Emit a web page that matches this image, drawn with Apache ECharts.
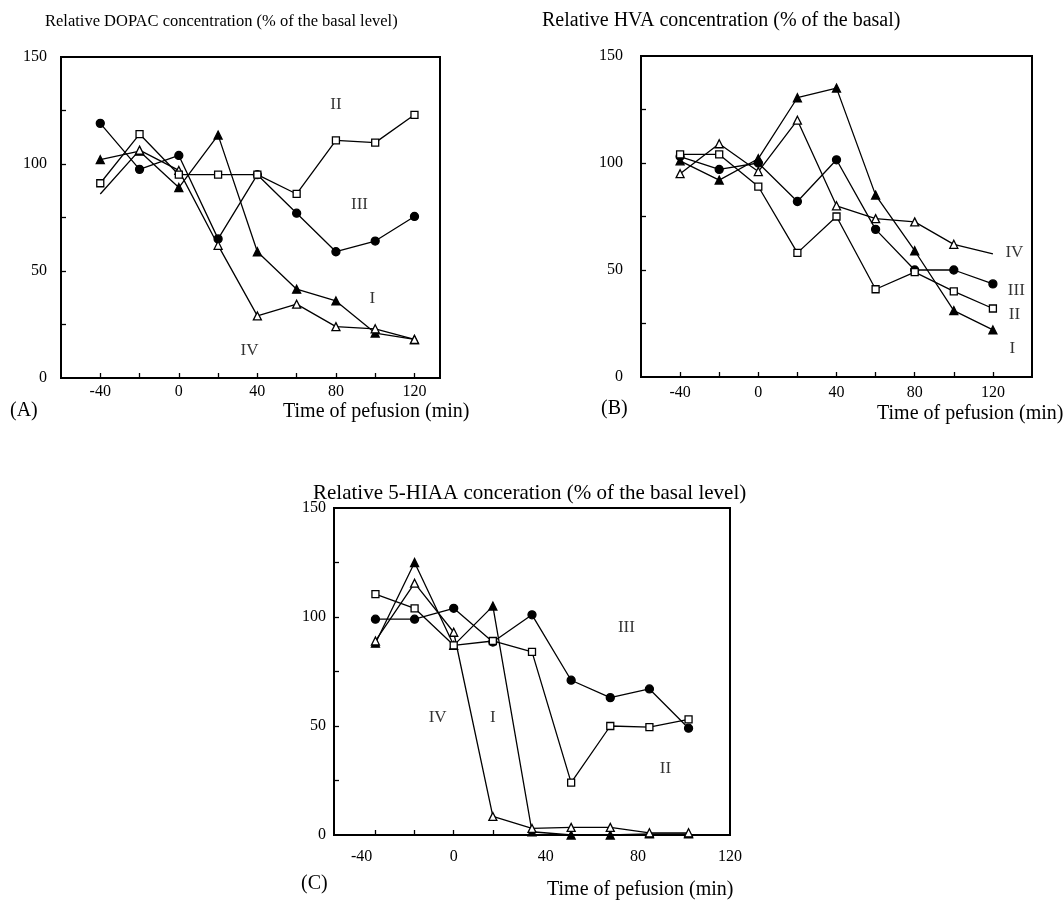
<!DOCTYPE html>
<html>
<head>
<meta charset="utf-8">
<script src="https://cdn.jsdelivr.net/npm/echarts@6/dist/echarts.min.js"></script>
<style>
  html, body { margin: 0; padding: 0; background: #fff; }
  #main { width: 1064px; height: 906px; }
</style>
</head>
<body>
<div id="main"></div>
<script>
// time points (min)
const timesAB = [-40, -20, 0, 20, 40, 60, 80, 100, 120];
const timesC = [-34, -17, 0, 17, 34, 51, 68, 85, 102];

// (A) DOPAC
const dopacI = [102, 106, 89, 113.5, 59, 41.5, 36, 21, 18];
const dopacII = [91, 114, 95, 95, 95, 86, 111, 110, 123];
const dopacIII = [119, 97.5, 104, 65, 95, 77, 59, 64, 75.5];
const dopacIV = [86, 106.5, 97, 62, 29, 34.5, 24, 23, 18];

// (B) HVA
const hvaI = [101, 92, 102, 130.5, 135, 85, 59, 31, 22];
const hvaII = [104, 104, 89, 58, 75, 41, 49, 40, 32];
const hvaIII = [103, 97, 100, 82, 101.5, 69, 50, 50, 43.5];
const hvaIV = [95, 109, 96, 120, 80, 74, 72.5, 62, 57.5];

// (C) 5-HIAA
const hiaaI = [88, 125, 87, 105, 1.5, 0, 0, 0.5, 0.5];
const hiaaII = [110.5, 104, 87, 89, 84, 24, 50, 49.5, 53];
const hiaaIII = [99, 99, 104, 88.5, 101, 71, 63, 67, 49];
const hiaaIV = [89, 115.5, 93, 8.5, 3, 3.5, 3.5, 1, 1];

// tick labels
const xLabels = [-40, 0, 40, 80, 120];
const xTicksAB = [-40, -20, 0, 20, 40, 60, 80, 100, 120];
const yLabels = [0, 50, 100, 150];
const yTicks = [25, 50, 75, 100, 125];

// curve labels: [text, time, value]
const notesA = [['II', 80, 128], ['III', 92, 81], ['I', 98.5, 37], ['IV', 36, 13]];
const notesB = [['IV', 131, 58], ['III', 132, 40.5], ['II', 131, 29], ['I', 130, 13.5]];
const notesC = [['III', 75, 95], ['IV', -7, 54], ['I', 17, 54], ['II', 92, 30.5]];

const FONT = 'Liberation Serif';
const chart = echarts.init(document.getElementById('main'));

const styles = {
    I: { symbol: 'triangle', fill: '#000' },
    II: { symbol: 'rect', fill: '#fff' },
    III: { symbol: 'circle', fill: '#000' },
    IV: { symbol: 'triangle', fill: '#fff' }
};

function pairs(xs, ys, noMarkAt) {
    return ys.map((v, i) => {
        const p = { value: [xs[i], v] };
        if (noMarkAt === i) p.symbol = 'none';
        return p;
    });
}

function line(idx, kind, xs, ys, noMarkAt) {
    const s = styles[kind];
    return {
        type: 'line',
        xAxisIndex: idx,
        yAxisIndex: idx,
        data: pairs(xs, ys, noMarkAt),
        symbol: s.symbol,
        symbolSize: kind === 'II' ? 7 : 8,
        showAllSymbol: true,
        lineStyle: { color: '#000', width: 1.3 },
        itemStyle: { color: s.fill, borderColor: '#000', borderWidth: 1.3 },
        animation: false,
        z: kind === 'II' ? 4 : 3
    };
}

function notes(idx, list) {
    return {
        type: 'scatter',
        xAxisIndex: idx,
        yAxisIndex: idx,
        symbolSize: 1,
        itemStyle: { color: 'rgba(0,0,0,0)' },
        silent: true,
        animation: false,
        data: list.map(n => ({ value: [n[1], n[2]], name: n[0] })),
        label: {
            show: true,
            position: 'inside',
            formatter: p => p.name,
            fontFamily: FONT,
            fontSize: 17,
            color: '#000'
        }
    };
}

function xAxis(idx, min, max, ticks, margin) {
    return {
        type: 'value',
        gridIndex: idx,
        min: min,
        max: max,
        splitLine: { show: false },
        axisLine: { onZero: false, lineStyle: { color: '#000', width: 2 } },
        axisTick: { inside: true, length: 5, customValues: ticks, lineStyle: { color: '#000', width: 1.3 } },
        axisLabel: { customValues: xLabels, margin: margin, fontFamily: FONT, fontSize: 16, color: '#000' }
    };
}

function yAxis(idx, margin) {
    return {
        type: 'value',
        gridIndex: idx,
        min: 0,
        max: 150,
        splitLine: { show: false },
        axisLine: { onZero: false, lineStyle: { color: '#000', width: 2 } },
        axisTick: { inside: true, length: 5, customValues: yTicks, lineStyle: { color: '#000', width: 1.3 } },
        axisLabel: { customValues: yLabels, margin: margin, fontFamily: FONT, fontSize: 16, color: '#000' }
    };
}

const txt = (text, left, top, size) => ({
    text: text,
    left: left,
    top: top,
    textStyle: { fontFamily: FONT, fontSize: size, fontWeight: 'normal', color: '#000' }
});

const option = {
    backgroundColor: '#fff',
    title: [
        txt('Relative DOPAC concentration (% of the basal level)', 40, 8, 16.5),
        txt('Relative HVA concentration (% of the basal)', 537, 6, 20),
        txt('Relative 5-HIAA conceration (% of the basal level)', 308, 478, 21),
        txt('Time of pefusion (min)', 278, 397, 20),
        txt('Time of pefusion (min)', 872, 399, 20),
        txt('Time of pefusion (min)', 542, 875, 20),
        txt('(A)', 5, 396, 20),
        txt('(B)', 596, 394, 20),
        txt('(C)', 296, 869, 20)
    ],
    grid: [
        { left: 61, top: 57, width: 379, height: 321, show: true, borderColor: '#000', borderWidth: 2 },
        { left: 641, top: 56, width: 391, height: 321, show: true, borderColor: '#000', borderWidth: 2 },
        { left: 334, top: 508, width: 396, height: 327, show: true, borderColor: '#000', borderWidth: 2 }
    ],
    xAxis: [
        xAxis(0, -60, 133, xTicksAB, 6),
        xAxis(1, -60, 140, xTicksAB, 8),
        xAxis(2, -52, 120, timesC, 14)
    ],
    yAxis: [
        yAxis(0, 14),
        yAxis(1, 18),
        yAxis(2, 8)
    ],
    series: [
        line(0, 'I', timesAB, dopacI),
        line(0, 'II', timesAB, dopacII),
        line(0, 'III', timesAB, dopacIII),
        line(0, 'IV', timesAB, dopacIV, 0),
        line(1, 'I', timesAB, hvaI),
        line(1, 'II', timesAB, hvaII),
        line(1, 'III', timesAB, hvaIII),
        line(1, 'IV', timesAB, hvaIV, 8),
        line(2, 'I', timesC, hiaaI),
        line(2, 'II', timesC, hiaaII),
        line(2, 'III', timesC, hiaaIII),
        line(2, 'IV', timesC, hiaaIV),
        notes(0, notesA),
        notes(1, notesB),
        notes(2, notesC)
    ]
};

chart.setOption(option);
</script>
</body>
</html>
